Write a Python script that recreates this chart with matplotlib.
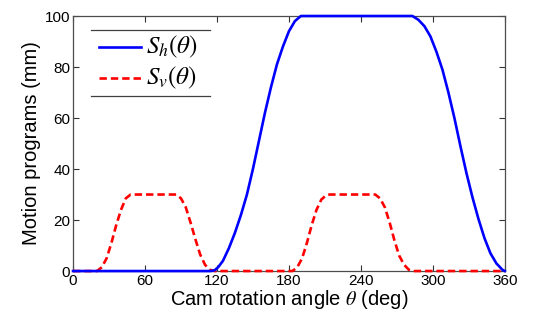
import matplotlib
matplotlib.use("Agg")
import matplotlib.pyplot as plt
from matplotlib.lines import Line2D

# cam angle (deg) and horizontal program S_h (mm)
theta_h = [0, 115, 118, 121, 125, 130, 135, 140, 145, 150, 155, 160, 165,
           170, 175, 180, 185, 190, 283, 288, 293, 298, 303, 308, 313, 318,
           323, 328, 333, 338, 343, 348, 353, 358, 360]
s_h = [0, 0, 0.3, 1.5, 4, 9, 15, 22, 30, 40, 51, 62, 72,
       81, 88, 94, 98, 100, 100, 98.5, 96, 92, 86, 79, 70, 60,
       49, 38.5, 29, 20.5, 13, 7, 3, 0.5, 0]

# vertical program S_v (mm)
theta_v = [0, 20, 24, 28, 32, 36, 40, 44, 48, 86, 90, 94, 98, 102, 106,
           110, 114, 118, 183, 187, 191, 195, 199, 203, 207, 211, 214,
           252, 256, 260, 264, 268, 272, 276, 280, 283, 360]
s_v = [0, 0, 1.5, 5, 11, 18, 24, 28.5, 30, 30, 28.5, 25, 19, 12.5, 6.5,
       2.5, 0.5, 0, 0, 1.5, 5, 11, 18, 24, 28, 29.7, 30,
       30, 28.5, 25, 19, 12, 6, 2.5, 0.5, 0, 0]

x_ticks = [0, 60, 120, 180, 240, 300, 360]
y_ticks = [0, 20, 40, 60, 80, 100]
labels = [r'$S_h(\theta)$', r'$S_v(\theta)$']

plt.rcParams['font.family'] = ['Liberation Sans', 'DejaVu Sans']
plt.rcParams['mathtext.fontset'] = 'stix'

fig = plt.figure(figsize=(5.37, 3.2), dpi=100)
ax = fig.add_axes([0.136, 0.153, 0.804, 0.797])

red = dict(color='#ff0000', lw=1.9, ls=(0, (2.8, 1.5)))
blue = dict(color='#0000ff', lw=1.9)
ax.plot(theta_v, s_v, clip_on=False, zorder=3, **red)
ax.plot(theta_h, s_h, clip_on=False, zorder=4, **blue)

ax.set_xlim(0, 360)
ax.set_ylim(0, 100)
ax.set_xticks(x_ticks)
ax.set_yticks(y_ticks)
ax.tick_params(direction='in', top=True, right=True, length=4, width=0.8,
               labelsize=11, pad=2, color='0.2')
for sp in ax.spines.values():
    sp.set_color('0.3')
    sp.set_linewidth(0.9)

ax.set_xlabel(r'Cam rotation angle $\theta$ (deg)', fontsize=14.5, labelpad=0)
ax.set_ylabel('Motion programs (mm)', fontsize=14.5, labelpad=3)

# legend drawn by hand: rule above and below, two entries
for yy in (0.945, 0.686):
    ax.add_line(Line2D([0.042, 0.317], [yy, yy], transform=ax.transAxes,
                       color='0.25', lw=0.9))
for yy, style, lab in zip((0.878, 0.757), (blue, red), labels):
    ax.add_line(Line2D([0.060, 0.157], [yy, yy], transform=ax.transAxes,
                       **style))
    ax.text(0.170, yy, lab, transform=ax.transAxes, fontsize=18,
            va='center', ha='left')

fig.savefig('out.png', dpi=100)
